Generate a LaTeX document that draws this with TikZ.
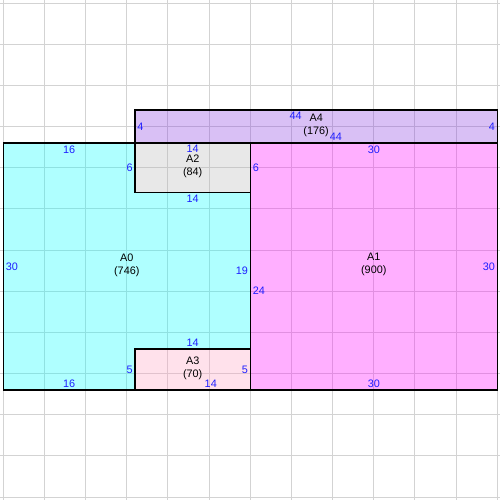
\documentclass[tikz,border=0pt]{standalone}
\usepackage{fontspec}
\setmainfont{Liberation Sans}
\definecolor{gridgray}{RGB}{211,211,211}
\definecolor{cyanA}{RGB}{5,255,255}
\definecolor{magentaA}{RGB}{255,5,255}
\definecolor{pinkA}{RGB}{255,161,193}
\definecolor{purpleA}{RGB}{136,58,224}
\definecolor{grayA}{RGB}{183,183,183}
\definecolor{lenblue}{RGB}{30,30,255}

\tikzset{
  gridline/.style={gridgray, line width=0.7pt},
  area/.style={draw=black, line width=1pt, fill opacity=0.32},
  areaname/.style={align=center, inner sep=0pt, font=\fontsize{7.5}{9}\selectfont},
  len/.style={text=lenblue, inner sep=1.5pt, font=\fontsize{7.5}{9}\selectfont},
}

\begin{document}
\begin{tikzpicture}[x=0.2cm, y=0.2cm]
    \useasboundingbox (-0.4,-13.36) rectangle (60.33,47.37);

    % Grid
    \foreach \x in {0,5,...,60}
        \draw[gridline] (\x,-13.36) -- (\x,47.37);
    \foreach \y in {-13,-8,...,47}
        \draw[gridline] (-0.4,\y) -- (60.33,\y);

    % Areas
    \draw[area, fill=cyanA] (0,0) -- (16,0) -- (16,5) -- (30,5) -- (30,24) -- (16,24) -- (16,30) -- (0,30) -- cycle;
    \draw[area, fill=magentaA] (30,0) -- (60,0) -- (60,30) -- (30,30) -- (30,24) -- cycle;
    \draw[area, fill=grayA] (16,24) rectangle (30,30);
    \draw[area, fill=pinkA] (16,0) rectangle (30,5);
    \draw[area, fill=purpleA] (16,30) rectangle (60,34);

    % Area names
    \node[areaname] (a0) at (15,15.2) {A0\\(746)};
    \node[areaname] (a1) at (45,15.2) {A1\\(900)};
    \node[areaname] (a2) at (23,27.2) {A2\\(84)};
    \node[areaname] (a3) at (23,2.6) {A3\\(70)};
    \node[areaname] (a4) at (38,32.1) {A4\\(176)};

    % Side lengths of A0
    \node[len, anchor=north] (a0-top) at (8,30) {16};
    \node[len, anchor=south] (a0-bot) at (8,0) {16};
    \node[len, anchor=west] (a0-left) at (0,15) {30};
    \node[len, anchor=east] (a0-right) at (30,14.5) {19};
    \node[len, anchor=east] (a0-n1) at (16,27) {6};
    \node[len, anchor=north] (a0-n2) at (23,24) {14};
    \node[len, anchor=south] (a0-n3) at (23,5) {14};
    \node[len, anchor=east] (a0-n4) at (16,2.5) {5};

    % Side lengths of A1
    \node[len, anchor=north] (a1-top) at (45,30) {30};
    \node[len, anchor=south] (a1-bot) at (45,0) {30};
    \node[len, anchor=east] (a1-right) at (60,15) {30};
    \node[len, anchor=west] (a1-left1) at (30,27) {6};
    \node[len, anchor=west] (a1-left2) at (30,12) {24};

    % Side lengths of A2, A3
    \node[len, anchor=north] (a2-top) at (23,30) {14};
    \node[len, anchor=east] (a3-right) at (30,2.5) {5};
    \node[len, anchor=south] (a3-bot) at (25.2,0) {14};

    % Side lengths of A4
    \node[len, anchor=west] (a4-left) at (16,32) {4};
    \node[len, anchor=east] (a4-right) at (60,32) {4};
    \node[len, anchor=north] (a4-top) at (35.5,34) {44};
    \node[len, anchor=south] (a4-bot) at (40.4,30) {44};
\end{tikzpicture}
\end{document}
